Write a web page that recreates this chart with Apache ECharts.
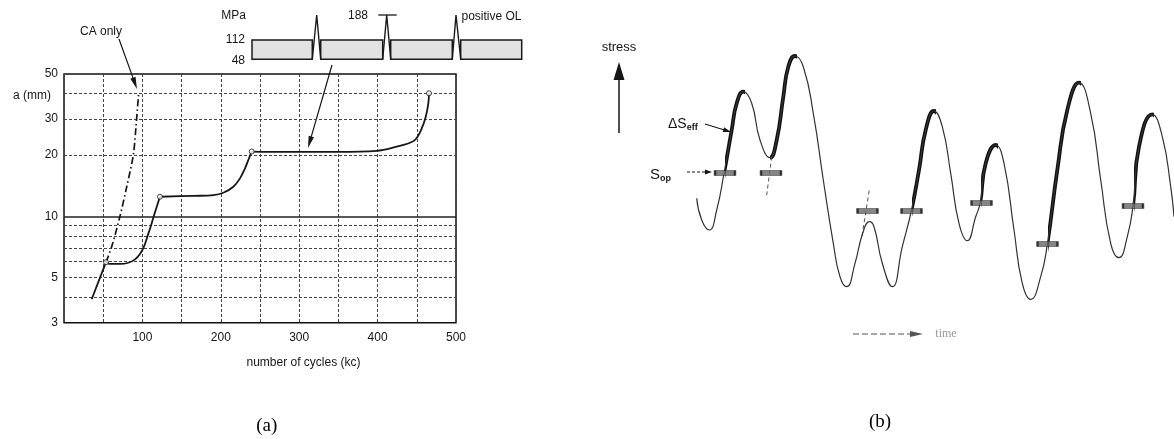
<!DOCTYPE html>
<html><head><meta charset="utf-8">
<script src="https://cdn.jsdelivr.net/npm/echarts@6/dist/echarts.min.js"></script>
<style>html,body{margin:0;padding:0;background:#fff}#c{width:1174px;height:439px}</style>
</head><body><div id="c"></div>
<script>
// ---------- Panel (a): crack length vs number of cycles ----------
const cyclesOL = [35.3, 53.6, 58.7, 71.4, 82.1, 90.6, 96.9, 102, 106.3, 110.5, 114.8, 119, 122.4, 165, 190.5, 203.2, 216, 224.5, 230.9, 235.1, 239.4, 280, 348, 398.8, 424.3, 441.3, 448.6, 456.3, 461.4, 464.7, 465.6];
const crackOL  = [3.91, 5.95, 5.83, 5.83, 5.91, 6.14, 6.52, 7.09, 7.94, 8.89, 10.1, 11.35, 12.47, 12.6, 12.7, 13.05, 13.97, 15.35, 17.2, 18.9, 20.8, 20.7, 20.7, 20.97, 21.98, 22.97, 23.9, 27.0, 30.8, 35.9, 40.2];
const overloadIdx = [1, 12, 20, 30];
const cyclesCA = [53.6, 60.8, 71.4, 80, 88.4, 91.8, 95.2];
const crackCA  = [5.95, 7.08, 10.0, 13.96, 20.0, 27.5, 40.2];
const yTickValues = [3, 5, 10, 20, 30, 40, 50];
const yGridMinor = [4, 5, 6, 7, 8, 9, 20, 30, 40];
const yGridMajor = [10];
const xTickLabels = [100, 200, 300, 400, 500];

// ---------- Panel (b): stress vs time (arbitrary units) ----------
const timeB   = [56.7, 61.7, 69.3, 76.7, 84, 91.7, 96.7, 103.3, 111.7, 120, 130, 136.7, 143.3, 148.3, 155, 163.3, 173.3, 183.3, 193.3, 200, 206.7, 215, 222.7, 229.3, 234, 242.3, 252.3, 262.3, 271.3, 279, 285.7, 294, 302.3, 310.7, 319, 327.3, 335.7, 340, 345.7, 355.7, 364, 374, 382.3, 390.7, 400.7, 407.3, 417.3, 427.3, 439, 450.7, 460.7, 470.7, 479, 487.3, 493, 499, 512.3, 522.3, 530.7, 534];
const stressB = [121.7, 100, 90, 110, 146.7, 190, 216.7, 228.3, 216.7, 180, 162.3, 180, 223.3, 253.3, 264, 253.3, 206.7, 140, 76.7, 43.3, 33.3, 56.7, 86.7, 98.3, 93.3, 56.7, 33.3, 73.3, 109, 150, 190, 209, 193.3, 146.7, 96.7, 79.3, 103.3, 116.7, 156.7, 175, 156.7, 90, 36.7, 20.7, 43.3, 75.7, 150, 210, 237.3, 206.7, 140, 76.7, 62.3, 83.3, 114.3, 173.3, 205.7, 183.3, 133.3, 103.3];
const effTime = [[85.5, 105], [130, 157], [272.5, 296], [341, 358], [408.5, 441], [494, 514]];
const sopTime   = [85, 131, 227.5, 271.5, 341.5, 407.5, 493];
const sopStress = [147, 147, 109, 109, 117, 76, 114];
const extTime   = [[131.7, 126.7], [222, 229.3]];
const extStress = [[163.3, 125], [84, 130]];

const pairs = (xs, ys) => xs.map((x, i) => [x, ys[i]]);
const olPts = pairs(cyclesOL, crackOL);
const olSegs = overloadIdx.map((e, k) => olPts.slice(k === 0 ? 0 : overloadIdx[k - 1], e + 1));
const curveB = pairs(timeB, stressB);

const INK = '#161616';
const FONT = '"Liberation Sans", Arial, sans-serif';
const gridLine = { color: '#444', width: 1, type: [3, 2] };

function arrow(x1, y1, x2, y2, o) {
  o = o || {};
  const hl = o.hl || 10, hw = o.hw || 6, c = o.c || INK, lw = o.lw || 1.2;
  const dx = x2 - x1, dy = y2 - y1, L = Math.hypot(dx, dy), ux = dx / L, uy = dy / L;
  const bx = x2 - ux * hl, by = y2 - uy * hl, px = -uy * hw / 2, py = ux * hw / 2;
  return [
    { type: 'line', silent: true, shape: { x1, y1, x2: bx + ux * 2, y2: by + uy * 2 }, style: { stroke: c, lineWidth: lw, lineDash: o.dash || null } },
    { type: 'polygon', silent: true, shape: { points: [[x2, y2], [bx + px, by + py], [bx - px, by - py]] }, style: { fill: c } }
  ];
}
function txt(x, y, text, font, o) {
  o = o || {};
  const al = o.align || 'center';
  return { type: 'text', silent: true, x, y, style: { text, font, fill: o.c || INK, align: al, textAlign: al, verticalAlign: 'middle', textVerticalAlign: 'middle', rich: o.rich } };
}

const boxes = [[252, 312.3], [320.7, 382.7], [390.7, 452.3], [460.7, 521.7]];
const spikes = [[312.3, 316.7, 320.7], [382.7, 386.7, 390.7], [452.3, 456, 460.7]];
const g = [];
boxes.forEach(b => g.push({ type: 'rect', silent: true, shape: { x: b[0], y: 40, width: b[1] - b[0], height: 19.3 }, style: { fill: '#e2e2e2', stroke: '#1a1a1a', lineWidth: 1.5 } }));
spikes.forEach(s => g.push({ type: 'polyline', silent: true, shape: { points: [[s[0], 59.3], [s[1], 15], [s[2], 59.3]] }, style: { stroke: '#1a1a1a', lineWidth: 1.4, fill: null } }));
g.push({ type: 'line', silent: true, shape: { x1: 378.3, y1: 15, x2: 396.7, y2: 15 }, style: { stroke: '#1a1a1a', lineWidth: 1.3 } });
g.push(txt(233.7, 16, 'MPa', '12px ' + FONT));
g.push(txt(245, 40, '112', '12px ' + FONT, { align: 'right' }));
g.push(txt(245, 61, '48', '12px ' + FONT, { align: 'right' }));
g.push(txt(358, 16, '188', '12px ' + FONT));
g.push(txt(491.5, 17, 'positive OL', '12px ' + FONT));
g.push(txt(101, 32, 'CA only', '12px ' + FONT));
g.push(...arrow(119, 39, 137, 89, { hl: 12, hw: 5.5 }));
g.push(...arrow(332, 65, 308, 148, { hl: 12, hw: 5.5 }));
g.push(txt(266.7, 426, '(a)', '19px "Liberation Serif", "Times New Roman", serif', { c: '#000' }));
// panel b annotations
g.push(txt(619, 47, 'stress', '13px ' + FONT));
g.push(...arrow(619, 133, 619, 62, { hl: 18, hw: 11, lw: 1.5 }));
g.push(txt(668, 124, '{a|ΔS}{b|eff}', '14px ' + FONT, { align: 'left', rich: { a: { fontSize: 14, fontFamily: FONT, fill: INK, color: INK }, b: { fontSize: 9, fontWeight: 'bold', fontFamily: FONT, fill: INK, color: INK, padding: [7, 0, 0, 0] } } }));
g.push(...arrow(705, 124, 731, 132, { hl: 8, hw: 5 }));
g.push(txt(650, 175, '{a|S}{b|op}', '15px ' + FONT, { align: 'left', rich: { a: { fontSize: 15, fontFamily: FONT, fill: INK, color: INK }, b: { fontSize: 9, fontWeight: 'bold', fontFamily: FONT, fill: INK, color: INK, padding: [7, 0, 0, 0] } } }));
g.push(...arrow(687, 172, 712, 172, { hl: 7, hw: 5, dash: [3, 2] }));
g.push(...arrow(853, 334, 923, 334, { hl: 13, hw: 6, dash: [6, 3], c: '#555' }));
g.push(txt(946, 334, 'time', '12px "Liberation Serif", serif', { c: '#999' }));
g.push(txt(880, 422, '(b)', '19px "Liberation Serif", "Times New Roman", serif', { c: '#000' }));

const series = [];
olSegs.forEach(seg => series.push({ type: 'line', xAxisIndex: 0, yAxisIndex: 0, data: seg, smooth: 0.35, showSymbol: false, lineStyle: { color: INK, width: 1.8 }, z: 5 }));
series.push({ type: 'line', xAxisIndex: 0, yAxisIndex: 0, data: pairs(cyclesCA, crackCA), smooth: 0.3, showSymbol: false, lineStyle: { color: INK, width: 1.7, type: [7, 3, 1.5, 3] }, z: 5 });
series.push({ type: 'scatter', xAxisIndex: 0, yAxisIndex: 0, data: overloadIdx.map(i => olPts[i]), symbol: 'circle', symbolSize: 5, itemStyle: { color: '#fff', borderColor: INK, borderWidth: 1 }, z: 6 });
series.push({ type: 'line', xAxisIndex: 0, yAxisIndex: 0, data: [], markLine: { silent: true, symbol: 'none', label: { show: false }, animation: false,
  data: yGridMinor.map(v => ({ yAxis: v, lineStyle: gridLine })).concat(yGridMajor.map(v => ({ yAxis: v, lineStyle: { color: '#222', width: 1.5, type: 'solid' } }))) } });
// panel b: thick effective-range overlay (drawn under the thin curve, same path)
const thickIdx = series.length;
series.push({ type: 'line', xAxisIndex: 1, yAxisIndex: 1, data: curveB, smooth: 0.5, showSymbol: false, lineStyle: { width: 3.8 }, z: 3 });
series.push({ type: 'line', xAxisIndex: 1, yAxisIndex: 1, data: curveB, smooth: 0.5, showSymbol: false, lineStyle: { color: '#333', width: 1.2 }, z: 4 });
extTime.forEach((t, k) => series.push({ type: 'line', xAxisIndex: 1, yAxisIndex: 1, data: pairs(t, extStress[k]), showSymbol: false, lineStyle: { color: '#555', width: 1, type: [4, 3] }, z: 3 }));
series.push({ type: 'scatter', xAxisIndex: 1, yAxisIndex: 1, data: pairs(sopTime, sopStress), symbol: 'rect', symbolSize: [20, 5], itemStyle: { color: '#666', borderColor: '#111', borderWidth: 1.2 }, z: 6 });

const option = {
  animation: false,
  backgroundColor: '#fff',
  grid: [
    { left: 64, top: 74, width: 392, height: 248.7, show: true, borderColor: '#111', borderWidth: 1.5, backgroundColor: 'transparent' },
    { left: 640, top: 40, width: 534, height: 280, show: false }
  ],
  visualMap: [{ type: 'piecewise', show: false, seriesIndex: thickIdx, dimension: 0,
    pieces: effTime.map(r => ({ gte: r[0], lte: r[1], color: '#111' })), outOfRange: { color: 'rgba(0,0,0,0)' } }],
  xAxis: [
    { type: 'value', gridIndex: 0, min: 0, max: 500, interval: 50,
      axisLine: { show: false }, axisTick: { show: false },
      axisLabel: { fontSize: 12, fontFamily: FONT, color: INK, margin: 9, formatter: v => xTickLabels.indexOf(v) >= 0 ? String(v) : '' },
      splitLine: { show: true, lineStyle: gridLine },
      name: 'number of cycles (kc)', nameLocation: 'middle', nameGap: 34,
      nameTextStyle: { fontSize: 12, fontFamily: FONT, color: INK, padding: [0, 0, 0, 87] } },
    { type: 'value', gridIndex: 1, min: 0, max: 534, show: false }
  ],
  yAxis: [
    { type: 'log', logBase: 10, gridIndex: 0, min: 3, max: 50,
      axisLine: { show: false }, axisTick: { show: false, customValues: yTickValues }, splitLine: { show: false },
      axisLabel: { customValues: yTickValues, fontSize: 12, fontFamily: FONT, color: INK, margin: 6,
        formatter: v => Math.round(v) === 40 ? '{u|a (mm)}' : String(Math.round(v)),
        rich: { u: { fontSize: 12, fontFamily: FONT, color: INK, padding: [4, 7, 0, 0] } } } },
    { type: 'value', gridIndex: 1, min: 0, max: 280, show: false }
  ],
  series: series,
  graphic: { elements: g }
};
const chart = echarts.init(document.getElementById('c'));
chart.setOption(option);
</script></body></html>
